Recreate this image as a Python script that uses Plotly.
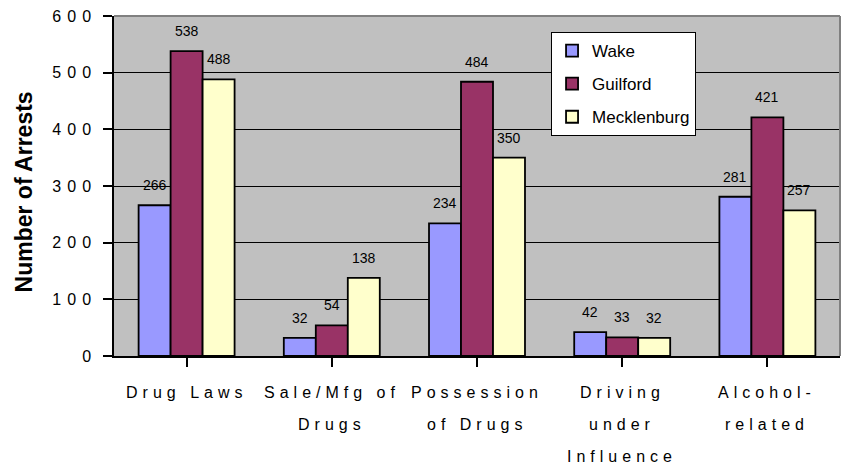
import plotly.graph_objects as go

categories = ["Drug Laws", "Sale/Mfg of<br>Drugs", "Possession<br>of Drugs",
              "Driving<br>under<br>Influence", "Alcohol-<br>related"]
series_names = ["Wake", "Guilford", "Mecklenburg"]
wake = [266, 32, 234, 42, 281]
guilford = [538, 54, 484, 33, 421]
mecklenburg = [488, 138, 350, 32, 257]
y_ticks = [0, 100, 200, 300, 400, 500, 600]
colors = ["#9999FF", "#993366", "#FFFFCC"]

FONT = "Liberation Sans, Arial, sans-serif"
series = [wake, guilford, mecklenburg]
xs = list(range(len(categories)))

fig = go.Figure()
for i, (name, vals) in enumerate(zip(series_names, series)):
    fig.add_trace(go.Bar(
        x=xs, y=vals, name=name, legendgroup=name,
        marker=dict(color=colors[i], line=dict(color="black", width=1.8)),
    ))

annotations = []
BAR_W = 32
for i, vals in enumerate(series):
    for x, v in zip(xs, vals):
        annotations.append(dict(
            x=x, y=v, xref="x", yref="y", text=str(v), showarrow=False,
            xshift=(i - 1) * BAR_W, yshift=20, yanchor="middle",
            font=dict(family=FONT, size=14, color="black"),
        ))

for x, cat in zip(xs, categories):
    for j, line in enumerate(cat.split("<br>")):
        annotations.append(dict(
            x=x, y=0, xref="x", yref="paper", showarrow=False,
            text=f"<span style='letter-spacing:5px'>{line}</span>",
            yanchor="middle", yshift=-36 - 32 * j, xshift=0,
            font=dict(family=FONT, size=16, color="black"),
        ))

annotations.append(dict(
    x=0, y=0.481, xref="paper", yref="paper", showarrow=False,
    text="<b>Number of Arrests</b>", textangle=-90, xshift=-90,
    xanchor="center", yanchor="middle",
    font=dict(family=FONT, size=23, color="black"),
))

fig.update_layout(
    width=843, height=466,
    margin=dict(l=114, r=3, t=16, b=110, autoexpand=False),
    paper_bgcolor="white", plot_bgcolor="#C0C0C0",
    barmode="group", bargap=0.339, bargroupgap=0,
    font=dict(family=FONT, color="black"),
    annotations=annotations,
    showlegend=True,
    legend=dict(
        x=0.602, y=0.953, xanchor="left", yanchor="top",
        bgcolor="white", bordercolor="black", borderwidth=1,
        font=dict(family=FONT, size=17, color="black"),
        tracegroupgap=8, traceorder="grouped",
    ),
    xaxis=dict(
        range=[-0.5, len(categories) - 0.5], automargin=False,
        tickvals=xs, ticktext=[""] * len(xs),
        showgrid=False, zeroline=False,
        showline=True, linecolor="black", linewidth=1.5,
        ticks="outside", tickson="boundaries", ticklen=9,
        tickcolor="black", tickwidth=1.5,
    ),
    yaxis=dict(
        range=[0, 600], tickvals=y_ticks, automargin=False,
        ticktext=[f"<span style='letter-spacing:6px'>{t}</span>" for t in y_ticks],
        showgrid=True, gridcolor="black", gridwidth=1,
        zeroline=False, showline=True, linecolor="black", linewidth=1.5,
        ticks="outside", ticklen=9, tickcolor="black", tickwidth=1.5,
        tickfont=dict(family=FONT, size=16, color="black"),
        ticklabelstandoff=3,
    ),
    shapes=[
        dict(type="line", xref="paper", yref="paper", x0=0, x1=1, y0=1, y1=1,
             line=dict(color="#808080", width=2), layer="above"),
        dict(type="line", xref="paper", yref="paper", x0=1, x1=1, y0=0, y1=1,
             line=dict(color="#808080", width=2), layer="above"),
    ],
)

fig.write_html(
    "out.html",
    config={"displayModeBar": False},
    post_script="document.body.style.margin='0';document.body.style.overflow='hidden';",
)
